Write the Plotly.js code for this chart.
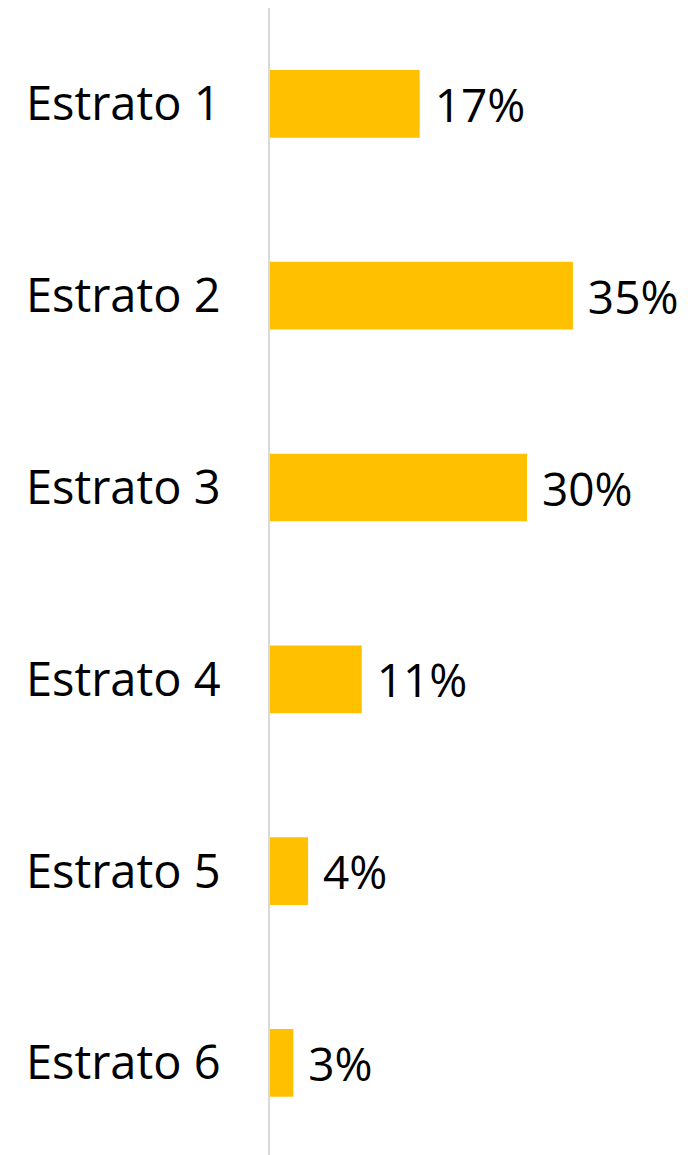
<!DOCTYPE html>
<html>
<head>
<meta charset="utf-8">
<script src="https://cdn.plot.ly/plotly-3.0.1.min.js"></script>
<style>html,body{margin:0;padding:0;background:#fff;}#chart{width:688px;height:1155px;}</style>
</head>
<body>
<div id="chart"></div>
<script>
const categories = ["Estrato 1", "Estrato 2", "Estrato 3", "Estrato 4", "Estrato 5", "Estrato 6"];
const shares = [17.3, 35.0, 29.7, 10.6, 4.4, 2.7];

const trace = {
  type: 'bar',
  orientation: 'h',
  y: categories,
  x: shares,
  marker: {color: '#FFC000'},
  width: 0.353,
  texttemplate: '\u00a0%{x:.0f}%',
  textposition: 'outside',
  cliponaxis: false,
  constraintext: 'none',
  textfont: {family: 'Open Sans', size: 46, color: '#000'},
  hoverinfo: 'none'
};

const layout = {
  width: 688, height: 1155,
  margin: {l: 270, r: 0, t: 8, b: 0},
  paper_bgcolor: '#fff', plot_bgcolor: '#fff',
  showlegend: false,
  font: {family: 'Open Sans', color: '#000'},
  xaxis: {range: [0, 48.3], visible: false, showgrid: false, zeroline: false},
  yaxis: {
    type: 'category',
    range: [5.48, -0.5],
    showline: true, linecolor: '#d9d9d9', linewidth: 2,
    showgrid: false, zeroline: false, ticks: '',
    ticklabelstandoff: 38,
    tickfont: {family: 'Open Sans', size: 47, color: '#000'}
  }
};

Plotly.newPlot('chart', [trace], layout, {staticPlot: true});
</script>
</body>
</html>
